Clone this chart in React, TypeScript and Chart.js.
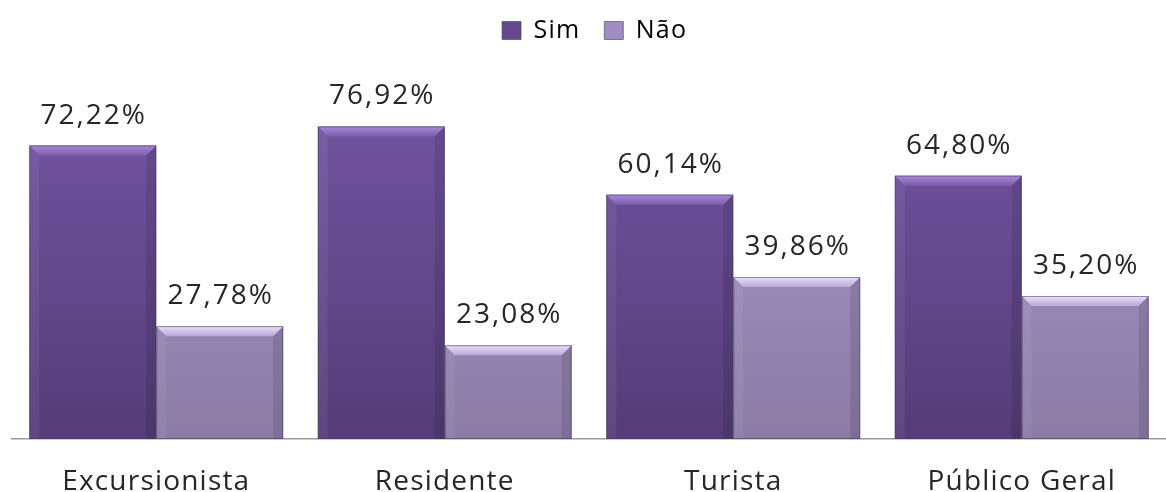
import React, { useEffect, useRef } from 'react';
import { Chart, registerables } from 'chart.js';

Chart.register(...registerables);

const categories = ['Excursionista', 'Residente', 'Turista', 'Público Geral'];
const seriesNames = ['Sim', 'Não'];
const simValues = [72.22, 76.92, 60.14, 64.8];
const naoValues = [27.78, 23.08, 39.86, 35.2];

const FONT = '"Open Sans", "Noto Sans", sans-serif';

const palette = {
  Sim: { top: '#7658a6', bottom: '#553c78', bevelTop: '#a98bd8', bevelBot: '#7b5cad', solid: '#64488e' },
  Não: { top: '#ad9cd0', bottom: '#8b7ba5', bevelTop: '#ecdffa', bevelBot: '#b9a8da', solid: '#9f8dc2' },
};

const fmt = (v: number) => v.toFixed(2).replace('.', ',') + '%';

const gradFill = (key: 'Sim' | 'Não') => (ctx: any) => {
  const chart = ctx.chart;
  const area = chart.chartArea;
  if (!area) return palette[key].solid;
  const g = chart.ctx.createLinearGradient(0, area.top, 0, area.bottom);
  g.addColorStop(0, palette[key].top);
  g.addColorStop(1, palette[key].bottom);
  return g;
};

const spacingPlugin = {
  id: 'spacing',
  beforeDraw(chart: any) {
    (chart.ctx as any).letterSpacing = '1.2px';
  },
};

const bevelPlugin = {
  id: 'bevel',
  afterDatasetsDraw(chart: any) {
    const ctx = chart.ctx;
    chart.data.datasets.forEach((ds: any, di: number) => {
      const key = seriesNames[di] as 'Sim' | 'Não';
      const meta = chart.getDatasetMeta(di);
      meta.data.forEach((bar: any, idx: number) => {
        const { x, y, base, width } = bar.getProps(['x', 'y', 'base', 'width'], true);
        const l = x - width / 2;
        const r = x + width / 2;
        const t = y;
        const b = base;
        const bv = 10;
        ctx.save();
        // top bevel
        const g = ctx.createLinearGradient(0, t, 0, t + bv);
        g.addColorStop(0, palette[key].bevelTop);
        g.addColorStop(1, palette[key].bevelBot);
        ctx.fillStyle = g;
        ctx.beginPath();
        ctx.moveTo(l, t);
        ctx.lineTo(r, t);
        ctx.lineTo(r - bv, t + bv);
        ctx.lineTo(l + bv, t + bv);
        ctx.closePath();
        ctx.fill();
        // left bevel
        ctx.fillStyle = 'rgba(255,255,255,0.06)';
        ctx.beginPath();
        ctx.moveTo(l, t);
        ctx.lineTo(l + bv, t + bv);
        ctx.lineTo(l + bv, b);
        ctx.lineTo(l, b);
        ctx.closePath();
        ctx.fill();
        // right bevel
        ctx.fillStyle = 'rgba(0,0,0,0.10)';
        ctx.beginPath();
        ctx.moveTo(r, t);
        ctx.lineTo(r - bv, t + bv);
        ctx.lineTo(r - bv, b);
        ctx.lineTo(r, b);
        ctx.closePath();
        ctx.fill();
        // outline
        ctx.strokeStyle = 'rgba(70,60,90,0.55)';
        ctx.lineWidth = 1;
        ctx.strokeRect(l + 0.5, t + 0.5, width - 1, b - t - 1);
        ctx.restore();

        // value label
        const v = ds.data[idx];
        ctx.save();
        (ctx as any).letterSpacing = '2px';
        ctx.fillStyle = '#262626';
        ctx.font = `28px ${FONT}`;
        ctx.textAlign = 'center';
        ctx.textBaseline = 'alphabetic';
        ctx.fillText(fmt(v), x + 1, t - 22);
        ctx.restore();
      });
    });
  },
};

export default function App() {
  const ref = useRef<HTMLCanvasElement>(null);
  useEffect(() => {
    if (!ref.current) return;
    const chart = new Chart(ref.current, {
      type: 'bar',
      data: {
        labels: categories,
        datasets: [
          { label: seriesNames[0], data: simValues, backgroundColor: gradFill('Sim'), borderWidth: 0 },
          { label: seriesNames[1], data: naoValues, backgroundColor: gradFill('Não'), borderWidth: 0 },
        ],
      },
      options: {
        responsive: false,
        animation: false,
        devicePixelRatio: 1,
        layout: { padding: { left: 12, right: -4, top: -6, bottom: 0 } },
        datasets: { bar: { categoryPercentage: 0.88, barPercentage: 1 } },
        plugins: {
          tooltip: { enabled: false },
          legend: {
            position: 'top',
            labels: {
              font: { family: FONT, size: 25 },
              color: '#262626',
              boxWidth: 19,
              boxHeight: 18,
              padding: 24,
              generateLabels: () =>
                seriesNames.map((n, i) => ({
                  text: n,
                  fillStyle: palette[n as 'Sim' | 'Não'].solid,
                  strokeStyle: 'rgba(70,60,90,0.6)',
                  lineWidth: 1,
                  hidden: false,
                  datasetIndex: i,
                })),
            },
          },
        },
        scales: {
          x: {
            grid: { display: false },
            border: { display: true, color: '#9a9a9a', width: 1.5 },
            ticks: { font: { family: FONT, size: 28 }, color: '#262626', padding: 18 },
            afterFit: (scale: any) => {
              scale.height = 53;
            },
          },
          y: {
            display: false,
            min: 0,
            max: 95,
          },
        },
      },
      plugins: [spacingPlugin, bevelPlugin],
    });
    return () => chart.destroy();
  }, []);
  return (
    <div style={{ position: 'absolute', left: 0, top: 0, width: 1166, height: 492, background: '#fff', overflow: 'hidden' }}>
      <canvas ref={ref} width={1166} height={492} style={{ width: 1166, height: 492, display: 'block' }} />
    </div>
  );
}
